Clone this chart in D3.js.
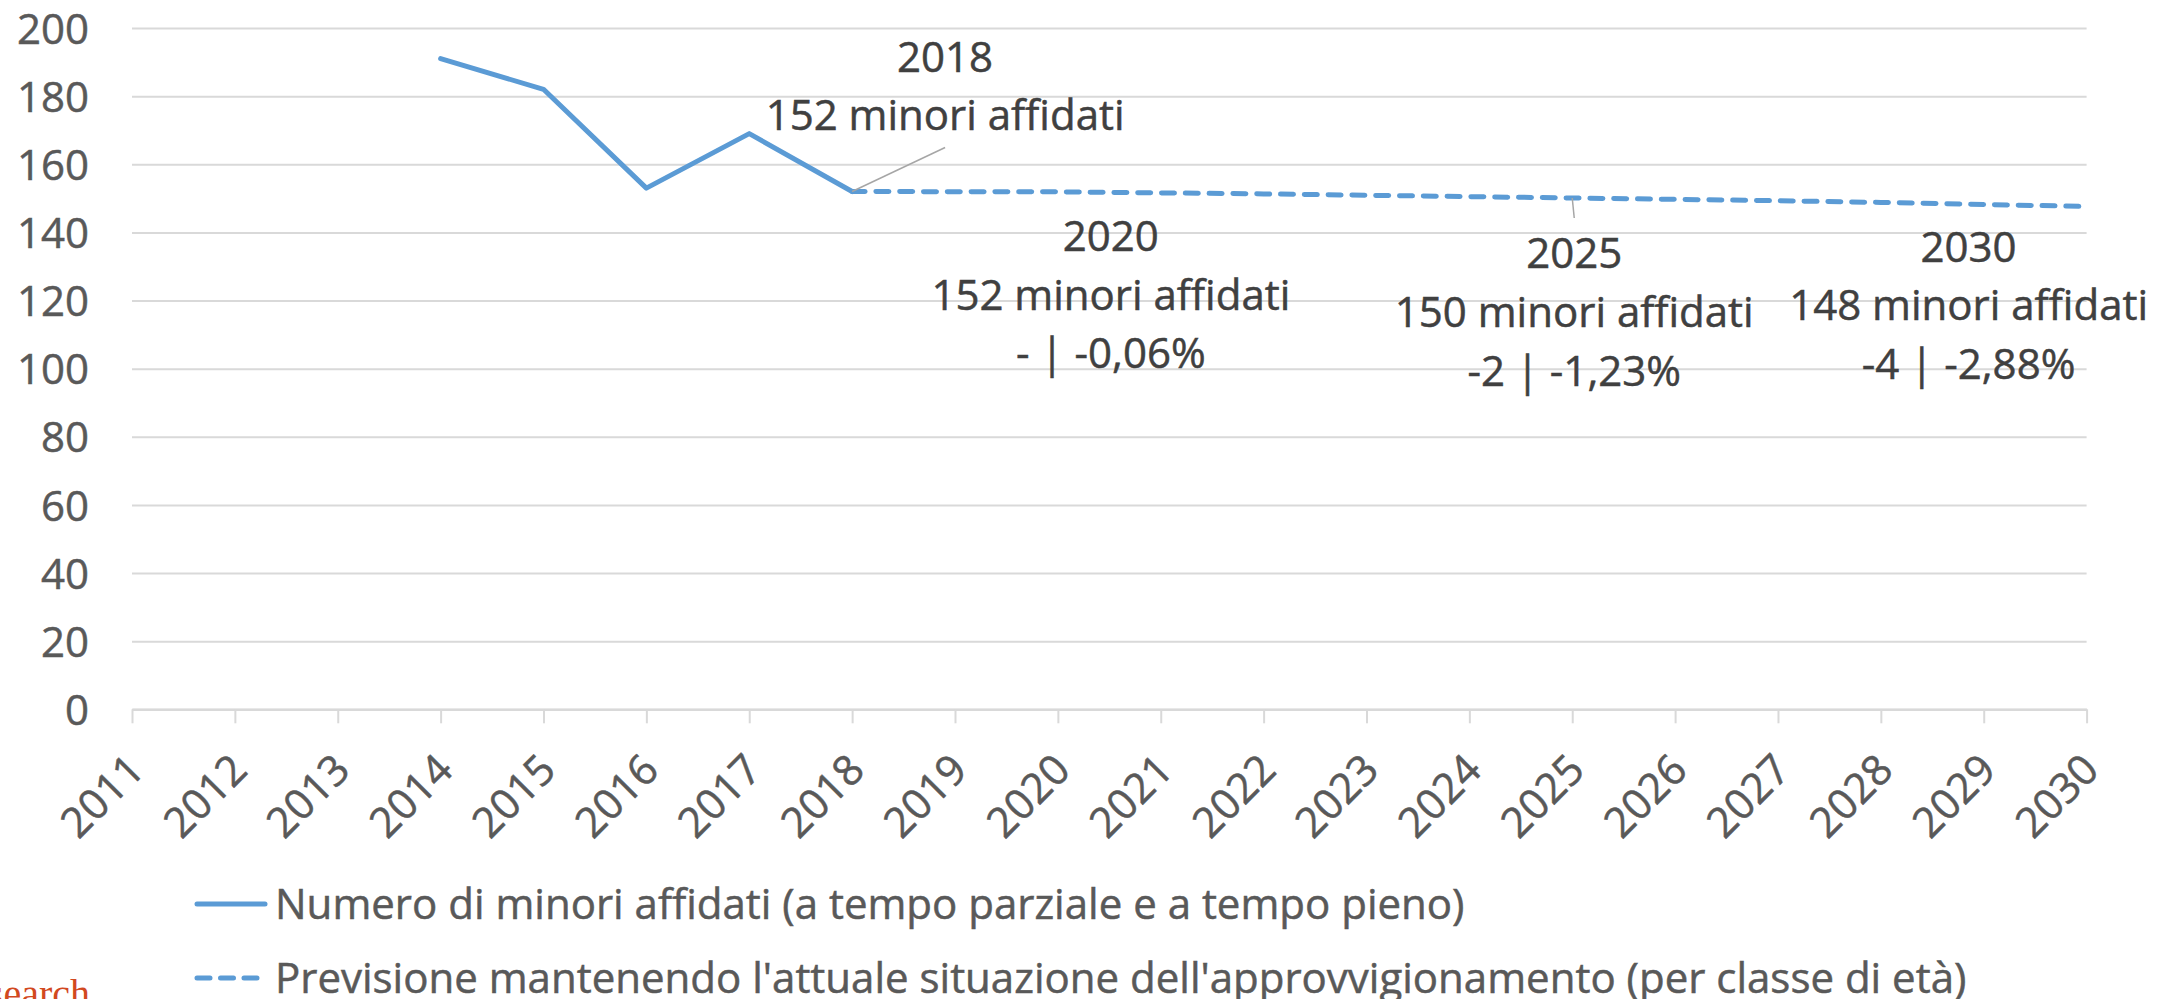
<!DOCTYPE html>
<html>
<head>
<meta charset="utf-8">
<script src="https://cdn.jsdelivr.net/npm/d3@7"></script>
<style>
  body { margin: 0; background: #fff; }
  svg { display: block; font-family: "Open Sans", sans-serif; }
</style>
</head>
<body>
<div id="chart"></div>
<script>
// values
const years = ["2011", "2012", "2013", "2014", "2015", "2016", "2017", "2018", "2019", "2020",
               "2021", "2022", "2023", "2024", "2025", "2026", "2027", "2028", "2029", "2030"];
const yTicks = [0, 20, 40, 60, 80, 100, 120, 140, 160, 180, 200];

const actualYears = ["2014", "2015", "2016", "2017", "2018"];
const actualValues = [191, 182, 153, 169, 152];

const forecastYears = ["2018", "2019", "2020", "2021", "2022", "2023", "2024",
                       "2025", "2026", "2027", "2028", "2029", "2030"];
const forecastValues = [152, 151.95, 151.9, 151.6, 151.3, 150.9, 150.5,
                        150.1, 149.7, 149.3, 148.8, 148.2, 147.6];

const seriesNames = [
  "Numero di minori affidati (a tempo parziale e a tempo pieno)",
  "Previsione mantenendo l'attuale situazione dell'approvvigionamento (per classe di età)"
];

const labelYears = ["2018", "2020", "2025", "2030"];
const labelTexts = [
  ["2018", "152 minori affidati"],
  ["2020", "152 minori affidati", "- | -0,06%"],
  ["2025", "150 minori affidati", "-2 | -1,23%"],
  ["2030", "148 minori affidati", "-4 | -2,88%"]
];

// layout
const W = 2178, H = 999;
const plot = { left: 132, right: 2086.6, top: 28, bottom: 709.3 };
const blue = "#5B9BD5";
const fontSize = 42;
const lineGap = 58.7;
// label offsets from the data point: [dx of centre, dy of first line centre]
const labelOffsets = { "2018": [93, -135], "2020": [53, 44], "2025": [2, 55], "2030": [-118, 40] };
const leaders = { "2018": [93, -44], "2025": [2, 20] };

const svg = d3.select("#chart").append("svg")
  .attr("width", W)
  .attr("height", H);

const x = d3.scalePoint().domain(years).range([plot.left, plot.right]);
const y = d3.scaleLinear().domain([0, 200]).range([plot.bottom, plot.top]);

function heavy(sel, color) {
  sel.attr("fill", color)
    .attr("stroke", color)
    .attr("stroke-width", 0.5)
    .attr("font-size", fontSize)
    .attr("font-family", "Open Sans");
}

// gridlines + y labels
const yAxis = svg.append("g")
  .attr("transform", `translate(${plot.left},0)`)
  .call(d3.axisLeft(y).tickValues(yTicks).tickSize(-(plot.right - plot.left)).tickPadding(43));
yAxis.select(".domain").remove();
yAxis.selectAll(".tick line").attr("stroke", "#D9D9D9").attr("stroke-width", 2);
yAxis.selectAll(".tick text")
  .call(heavy, "#595959")
  .attr("dy", "0.36em");

// x axis
const xAxis = svg.append("g")
  .attr("transform", `translate(0,${plot.bottom})`)
  .call(d3.axisBottom(x).tickSize(14).tickSizeOuter(0));
xAxis.select(".domain").attr("stroke", "#D9D9D9").attr("stroke-width", 2.5);
xAxis.selectAll(".tick line").attr("stroke", "#D9D9D9").attr("stroke-width", 2);
xAxis.selectAll(".tick text")
  .call(heavy, "#595959")
  .attr("x", 0).attr("y", 0).attr("dy", null)
  .attr("text-anchor", "end")
  .attr("transform", "translate(14,63) rotate(-45)");

const line = d3.line().x(d => x(d[0])).y(d => y(d[1]));

// forecast (dashed)
svg.append("path")
  .datum(d3.zip(forecastYears, forecastValues))
  .attr("d", line)
  .attr("fill", "none")
  .attr("stroke", blue)
  .attr("stroke-width", 5)
  .attr("stroke-linecap", "round")
  .attr("stroke-dasharray", "13,10.8");

// actual (solid)
svg.append("path")
  .datum(d3.zip(actualYears, actualValues))
  .attr("d", line)
  .attr("fill", "none")
  .attr("stroke", blue)
  .attr("stroke-width", 5)
  .attr("stroke-linejoin", "round")
  .attr("stroke-linecap", "round");

// data labels
const valueOf = yr => forecastValues[forecastYears.indexOf(yr)];

labelYears.forEach((yr, i) => {
  const px = x(yr), py = y(valueOf(yr));
  if (leaders[yr]) {
    svg.append("line")
      .attr("x1", px).attr("y1", py)
      .attr("x2", px + leaders[yr][0]).attr("y2", py + leaders[yr][1])
      .attr("stroke", "#A6A6A6")
      .attr("stroke-width", 1.5);
  }
  const off = labelOffsets[yr];
  svg.append("g").selectAll("text")
    .data(labelTexts[i])
    .join("text")
    .attr("x", px + off[0])
    .attr("y", (d, j) => py + off[1] + j * lineGap)
    .attr("dy", "0.36em")
    .attr("text-anchor", "middle")
    .call(heavy, "#404040")
    .text(d => d);
});

// legend
const legend = svg.append("g");
const legendY = [904, 978];
legend.selectAll("line")
  .data(seriesNames)
  .join("line")
  .attr("x1", 197).attr("x2", (d, i) => i ? 258 : 265)
  .attr("y1", (d, i) => legendY[i]).attr("y2", (d, i) => legendY[i])
  .attr("stroke", blue)
  .attr("stroke-width", 5)
  .attr("stroke-linecap", "round")
  .attr("stroke-dasharray", (d, i) => i ? "13,10.5" : null);
legend.selectAll("text")
  .data(seriesNames)
  .join("text")
  .attr("x", 275)
  .attr("y", (d, i) => legendY[i])
  .attr("dy", "0.36em")
  .call(heavy, "#595959")
  .text(d => d);

// cut-off watermark in the corner
svg.append("text")
  .attr("x", 90)
  .attr("y", 1007)
  .attr("text-anchor", "end")
  .attr("font-family", "Liberation Serif")
  .attr("font-size", 40)
  .attr("fill", "#D2491F")
  .text("Research");
</script>
</body>
</html>
